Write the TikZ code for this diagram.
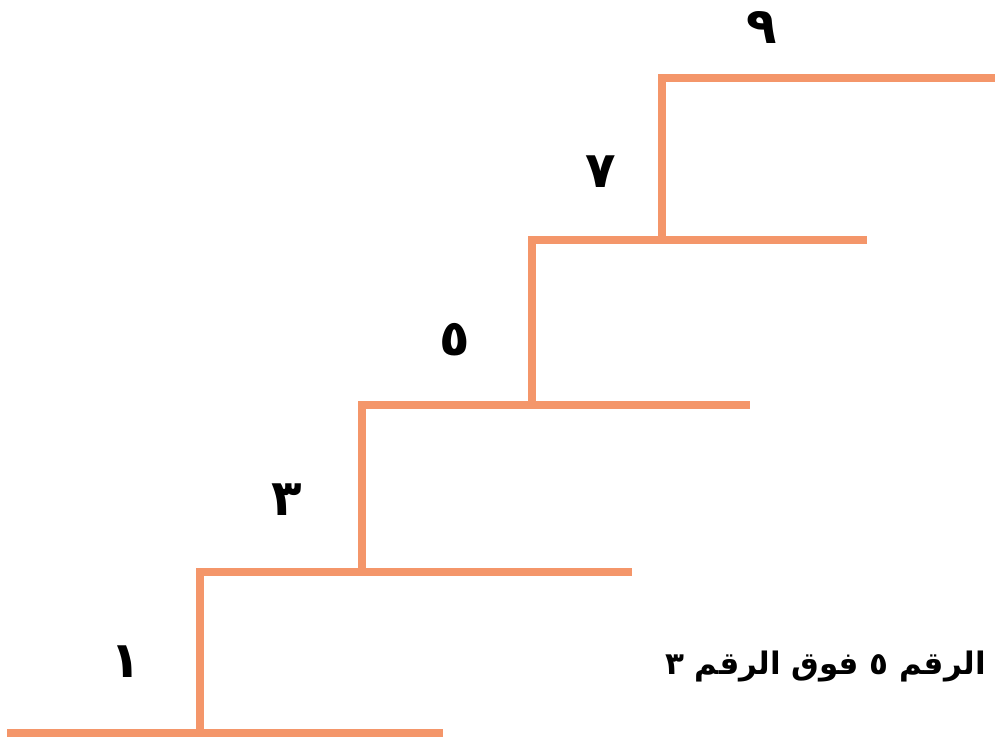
\documentclass[tikz,border=0pt]{standalone}
\usepackage{fontspec}
\TeXXeTstate=1
\newfontfamily\arabicfont[Script=Arabic]{DejaVu Sans}
\definecolor{stair}{HTML}{F4966A}
\begin{document}
\begin{tikzpicture}[x=1pt,y=-1pt,
  stairline/.style={draw=stair,line width=7.5pt,line cap=butt,line join=miter},
  digit/.style={font=\arabicfont\fontsize{50}{56}\selectfont\bfseries,text=black,inner sep=0pt},
  caption/.style={font=\arabicfont\fontsize{31}{36}\selectfont\bfseries,text=black,inner sep=0pt,anchor=east}]
\useasboundingbox (0,0) rectangle (995,742);
% step coordinates
\coordinate (a0) at (7,733);   \coordinate (a1) at (200,733);  \coordinate (a2) at (443,733);
\coordinate (b0) at (200,572); \coordinate (b1) at (362,572);  \coordinate (b2) at (632,572);
\coordinate (c0) at (362,405); \coordinate (c1) at (532,405);  \coordinate (c2) at (750,405);
\coordinate (d0) at (532,240); \coordinate (d1) at (662,240);  \coordinate (d2) at (867,240);
\coordinate (e0) at (662,78);  \coordinate (e2) at (995,78);
\draw[stairline] (a0) -- (a2);
\draw[stairline] (a1) -- (b0) -- (b2);
\draw[stairline] (b1) -- (c0) -- (c2);
\draw[stairline] (c1) -- (d0) -- (d2);
\draw[stairline] (d1) -- (e0) -- (e2);
% digits
\node[digit] (n1) at (126,662) {\beginR ١\endR};
\node[digit] (n3) at (287,500) {\beginR ٣\endR};
\node[digit] (n5) at (455,340) {\beginR ٥\endR};
\node[digit] (n7) at (601,172) {\beginR ٧\endR};
\node[digit] (n9) at (762,27) {\beginR ٩\endR};
% caption
\node[caption] (cap) at (986,666) {\beginR الرقم ٥ فوق الرقم ٣\endR};
\end{tikzpicture}
\end{document}
